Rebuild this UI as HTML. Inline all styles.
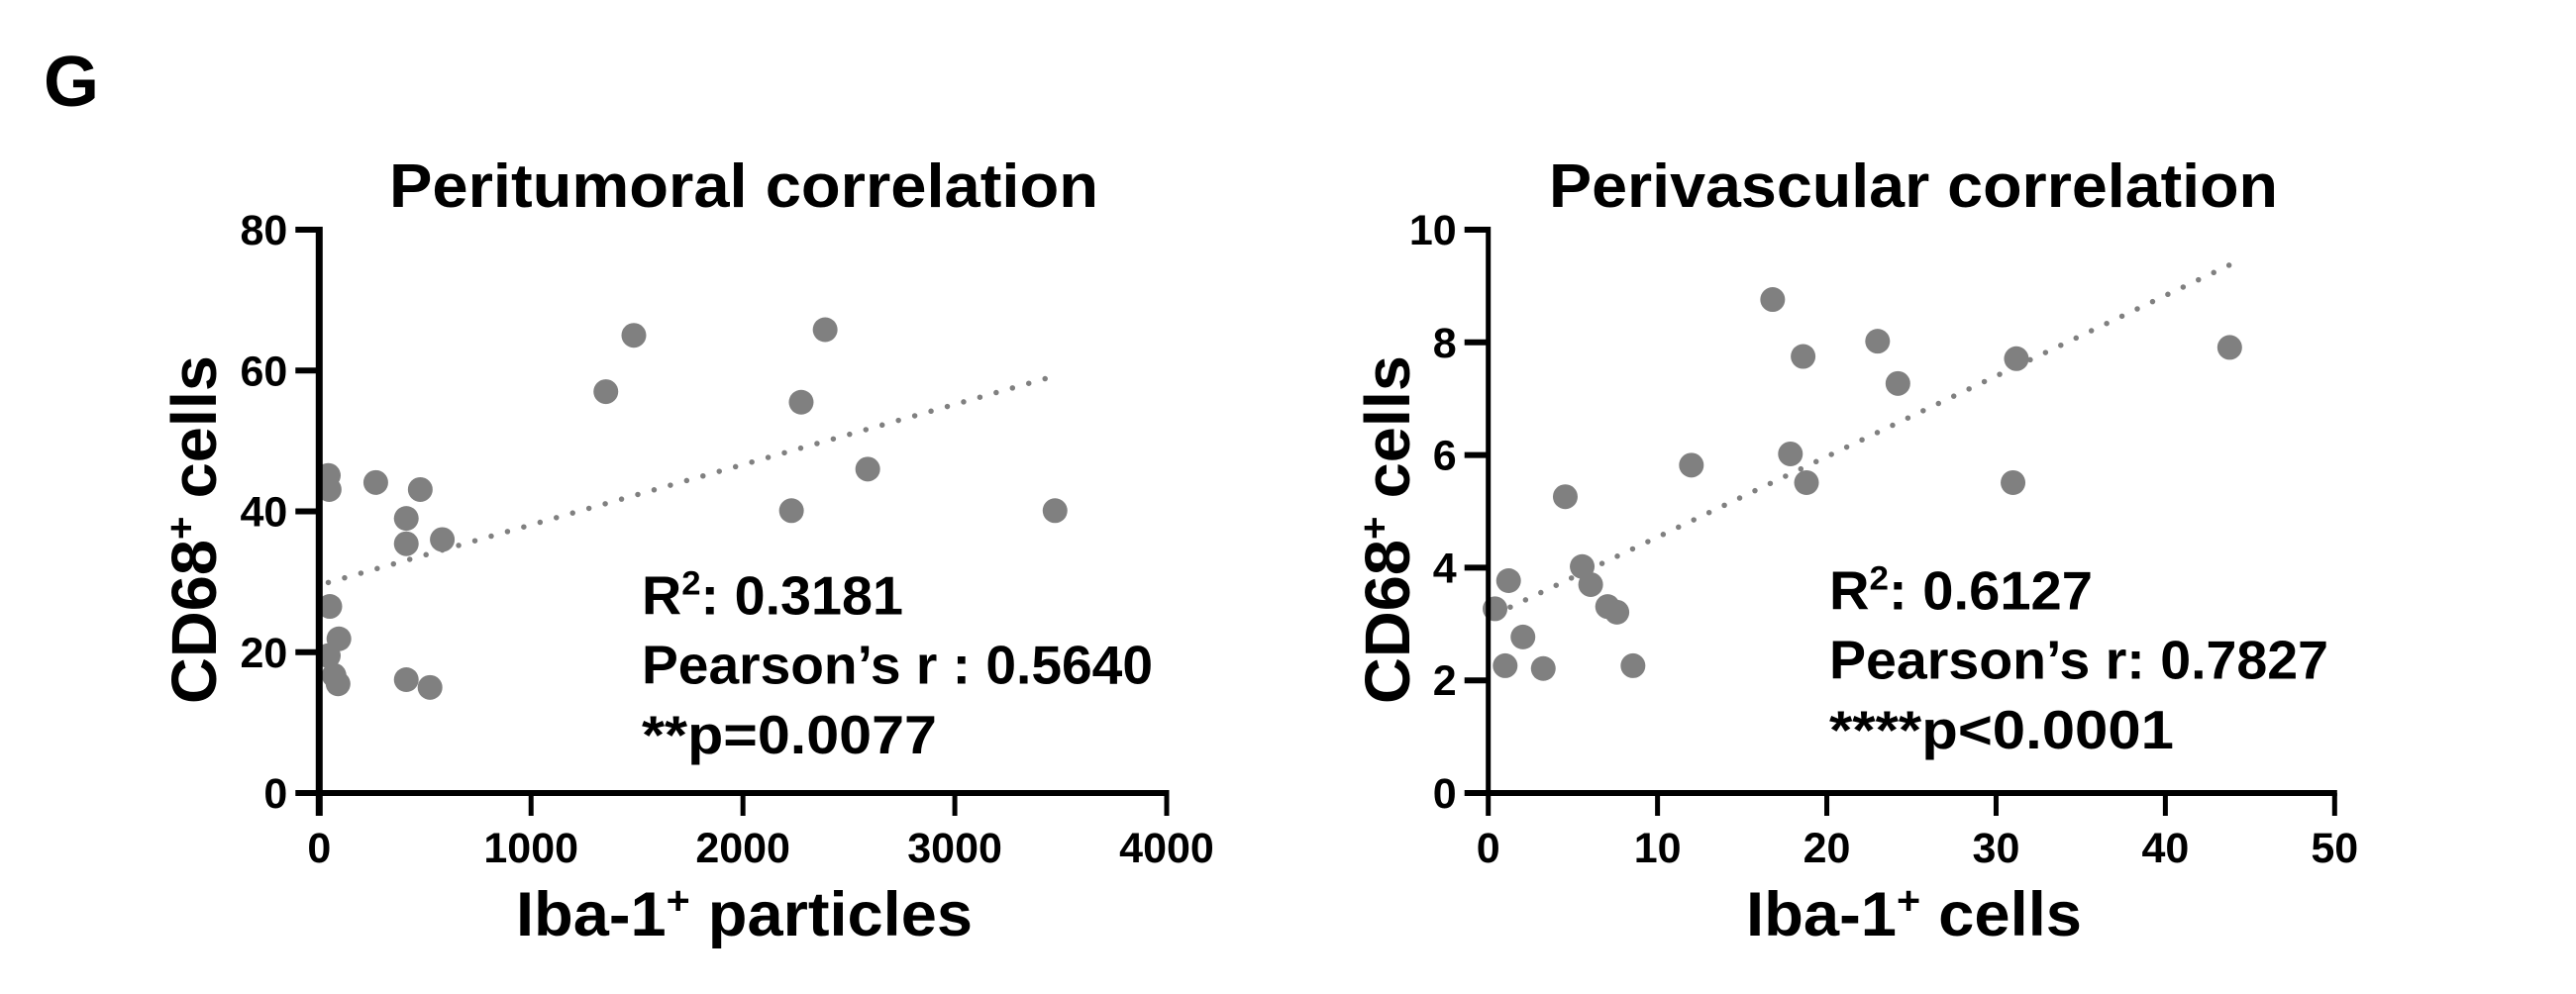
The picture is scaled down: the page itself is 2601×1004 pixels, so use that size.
<!DOCTYPE html>
<html lang="en">
<head>
<meta charset="utf-8">
<title>Correlation charts</title>
<style>
html,body{margin:0;padding:0;background:#fff;}
body{width:2601px;height:1004px;overflow:hidden;}
svg{display:block;}
text{font-family:"Liberation Sans",Arial,sans-serif;font-weight:700;fill:#000;}
</style>
</head>
<body>
<svg id="figure" xmlns="http://www.w3.org/2000/svg" width="2601" height="1004" viewBox="0 0 2601 1004">
  <rect width="2601" height="1004" fill="#fff"/>
  <text x="44" y="107" font-size="72">G</text>

  <g id="chart-left">
    <text x="393" y="209" font-size="62" textLength="716" lengthAdjust="spacingAndGlyphs">Peritumoral correlation</text>
    <text transform="translate(218,711) rotate(-90)" font-size="64" textLength="352" lengthAdjust="spacingAndGlyphs">CD68<tspan font-size="40" dy="-22">+</tspan><tspan dy="22"> cells</tspan></text>
    <text x="521" y="945" font-size="63" textLength="461" lengthAdjust="spacingAndGlyphs">Iba-1<tspan font-size="40" dy="-22">+</tspan><tspan dy="22"> particles</tspan></text>
    <g>
      <text x="648" y="620.5" font-size="54.5" textLength="264" lengthAdjust="spacingAndGlyphs">R<tspan font-size="34" dy="-20">2</tspan><tspan dy="20">: 0.3181</tspan></text>
      <text x="648" y="690.5" font-size="54.5" textLength="516" lengthAdjust="spacingAndGlyphs">Pearson’s r : 0.5640</text>
      <text x="648" y="761" font-size="54.5" textLength="298" lengthAdjust="spacingAndGlyphs">**p=0.0077</text>
    </g>
  </g>

  <g id="chart-right">
    <text x="1564" y="209" font-size="62" textLength="736" lengthAdjust="spacingAndGlyphs">Perivascular correlation</text>
    <text transform="translate(1423,711) rotate(-90)" font-size="64" textLength="352" lengthAdjust="spacingAndGlyphs">CD68<tspan font-size="40" dy="-22">+</tspan><tspan dy="22"> cells</tspan></text>
    <text x="1763" y="945" font-size="63" textLength="339" lengthAdjust="spacingAndGlyphs">Iba-1<tspan font-size="40" dy="-22">+</tspan><tspan dy="22"> cells</tspan></text>
    <g>
      <text x="1847" y="615.5" font-size="54.5" textLength="266" lengthAdjust="spacingAndGlyphs">R<tspan font-size="34" dy="-20">2</tspan><tspan dy="20">: 0.6127</tspan></text>
      <text x="1847" y="685.5" font-size="54.5" textLength="504" lengthAdjust="spacingAndGlyphs">Pearson’s r: 0.7827</text>
      <text x="1847" y="756" font-size="54.5" textLength="348" lengthAdjust="spacingAndGlyphs">****p&lt;0.0001</text>
    </g>
  </g>
</svg>
<script>
// Peritumoral chart data
const leftXTicks = [0, 1000, 2000, 3000, 4000];
const leftYTicks = [0, 20, 40, 60, 80];
const leftX = [1485, 2388, 1353, 2275, 2589, 2229, 3473, 43, 47, 267, 477, 411, 411, 581, 50, 93, 43, 70, 89, 411, 523];
const leftY = [65.0, 65.8, 57.0, 55.5, 46.0, 40.1, 40.1, 45.1, 43.1, 44.1, 43.1, 39.0, 35.4, 36.0, 26.5, 21.9, 19.5, 16.7, 15.5, 16.1, 15.0];
const leftTrendX = [43, 3480];
const leftTrendY = [29.9, 59.3];

// Perivascular chart data
const rightXTicks = [0, 10, 20, 30, 40, 50];
const rightYTicks = [0, 2, 4, 6, 8, 10];
const rightX = [16.8, 23.0, 18.6, 31.2, 43.8, 24.2, 17.85, 12.0, 18.8, 31.0, 4.55, 5.55, 6.05, 1.2, 0.4, 7.05, 7.6, 2.05, 1.0, 3.25, 8.55];
const rightY = [8.76, 8.02, 7.75, 7.71, 7.91, 7.27, 6.02, 5.82, 5.51, 5.51, 5.26, 4.02, 3.7, 3.77, 3.27, 3.31, 3.21, 2.77, 2.26, 2.21, 2.26];
const rightTrendX = [1.3, 44.4];
const rightTrendY = [3.3, 9.46];

const SVGNS = 'http://www.w3.org/2000/svg';

function make(tag, parent, attrs) {
  const el = document.createElementNS(SVGNS, tag);
  for (const k in attrs) el.setAttribute(k, attrs[k]);
  parent.appendChild(el);
  return el;
}

function drawChart(id, prefix, x0, x1, xMax, axisW, xs, ys, tx, ty, xTicks, yTicks) {
  const group = document.getElementById(id);
  const yBottom = 801, yTop = 232;
  const yMax = yTicks[yTicks.length - 1];
  const sx = function (v) { return x0 + (v / xMax) * (x1 - x0); };
  const sy = function (v) { return yBottom - (v / yMax) * (yBottom - yTop); };

  const trend = make('line', group, {x1: sx(tx[0]), y1: sy(ty[0]), x2: sx(tx[1]), y2: sy(ty[1]), stroke: '#808080', 'stroke-width': 5.5, 'stroke-linecap': 'round', 'stroke-dasharray': '0 17.1'});
  
  

  xs.forEach(function (v, i) {
    const dot = make('circle', group, {cx: sx(v), cy: sy(ys[i]), r: 12.5, fill: '#808080'});
    
    
  });

  const yAxis = make('line', group, {x1: x0, y1: yTop - 3, x2: x0, y2: yBottom + 23, stroke: '#000', 'stroke-width': axisW});
  
  

  const xAxis = make('line', group, {x1: x0, y1: yBottom, x2: x1 + 2.5, y2: yBottom, stroke: '#000', 'stroke-width': 6});
  
  

  yTicks.forEach(function (v) {
    const t = make('line', group, {x1: x0 - 24, y1: sy(v), x2: x0, y2: sy(v), stroke: '#000', 'stroke-width': 6});
    
    
    const lab = make('text', group, {x: x0 - 32, y: sy(v) + 15, 'text-anchor': 'end', 'font-size': 43});
    lab.textContent = String(v);
    
    
  });

  xTicks.forEach(function (v) {
    if (v !== 0) {
      const t = make('line', group, {x1: sx(v), y1: yBottom, x2: sx(v), y2: yBottom + 23, stroke: '#000', 'stroke-width': 5});
      
      
    }
    const lab = make('text', group, {x: sx(v), y: 871, 'text-anchor': 'middle', 'font-size': 43});
    lab.textContent = String(v);
    
    
  });
}

drawChart('chart-left', 'peritumoral', 322.3, 1178, 4000, 7, leftX, leftY, leftTrendX, leftTrendY, leftXTicks, leftYTicks);
drawChart('chart-right', 'perivascular', 1502.7, 2357.3, 50, 5, rightX, rightY, rightTrendX, rightTrendY, rightXTicks, rightYTicks);
</script>
</body>
</html>
